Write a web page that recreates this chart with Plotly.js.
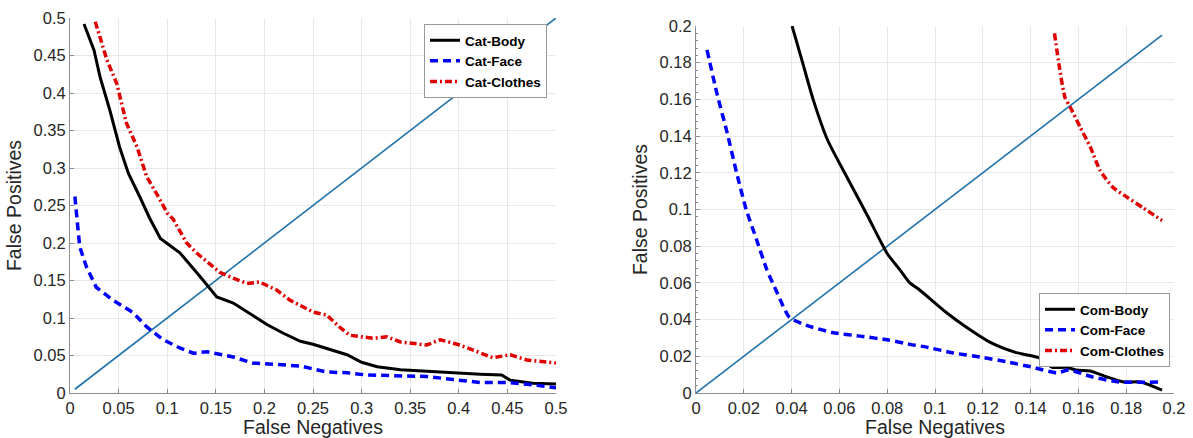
<!DOCTYPE html>
<html>
<head>
<meta charset="utf-8">
<script src="https://cdn.plot.ly/plotly-3.0.1.min.js"></script>
<style>html,body{margin:0;padding:0;background:#fff;}#chart{width:1193px;height:438px;}</style>
</head>
<body>
<div id="chart"></div>
<script>
// ---- Left panel (Cat) ----
const catBodyX = [0.0144,0.0247,0.031,0.041,0.051,0.060,0.072,0.082,0.093,0.113,0.134,0.151,0.168,0.182,0.203,0.219,0.237,0.25,0.285,0.30,0.316,0.34,0.388,0.422,0.444,0.453,0.476,0.5];
const catBodyY = [0.492,0.457,0.421,0.377,0.328,0.293,0.261,0.233,0.206,0.187,0.155,0.128,0.120,0.108,0.091,0.080,0.069,0.065,0.051,0.041,0.035,0.031,0.027,0.025,0.024,0.017,0.013,0.012];

const catFaceX = [0.005,0.007,0.010,0.017,0.027,0.044,0.065,0.079,0.096,0.113,0.127,0.141,0.168,0.188,0.219,0.237,0.264,0.285,0.305,0.326,0.367,0.394,0.422,0.45,0.476,0.5];
const catFaceY = [0.262,0.235,0.195,0.168,0.141,0.124,0.107,0.088,0.071,0.060,0.053,0.055,0.048,0.040,0.037,0.036,0.028,0.027,0.024,0.023,0.022,0.018,0.014,0.014,0.011,0.007];

const catClothesX = [0.026,0.038,0.048,0.058,0.069,0.079,0.089,0.1,0.106,0.12,0.13,0.154,0.168,0.182,0.195,0.213,0.226,0.237,0.25,0.264,0.278,0.288,0.312,0.326,0.34,0.367,0.381,0.401,0.415,0.435,0.453,0.47,0.5];
const catClothesY = [0.495,0.444,0.413,0.36,0.328,0.288,0.266,0.24,0.232,0.20,0.187,0.161,0.153,0.146,0.148,0.137,0.124,0.117,0.108,0.104,0.087,0.077,0.073,0.075,0.068,0.064,0.071,0.064,0.057,0.047,0.051,0.044,0.040];

const catDiagX = [0.005,0.5];
const catDiagY = [0.005,0.5];

// ---- Right panel (Com) ----
const comBodyX = [0.0402,0.0444,0.049,0.055,0.063,0.0716,0.080,0.0854,0.0895,0.0937,0.105,0.113,0.124,0.134,0.144,0.149,0.155,0.159,0.165,0.172,0.179,0.186,0.195];
const comBodyY = [0.2,0.181,0.16,0.138,0.118,0.097,0.076,0.067,0.060,0.056,0.0436,0.036,0.027,0.022,0.019,0.014,0.014,0.0125,0.012,0.0087,0.006,0.006,0.0016];

const comFaceX = [0.0046,0.0088,0.013,0.017,0.021,0.0255,0.0297,0.034,0.039,0.046,0.057,0.0686,0.08,0.0895,0.0965,0.1077,0.119,0.130,0.141,0.151,0.156,0.166,0.177,0.194];
const comFaceY = [0.187,0.163,0.142,0.12,0.10,0.083,0.067,0.0545,0.0414,0.037,0.033,0.031,0.029,0.0265,0.025,0.0218,0.0196,0.017,0.014,0.011,0.0125,0.0087,0.006,0.006];

const comClothesX = [0.150,0.152,0.1544,0.1565,0.1607,0.165,0.169,0.1745,0.18,0.187,0.195];
const comClothesY = [0.196,0.178,0.161,0.156,0.145,0.134,0.1215,0.112,0.107,0.101,0.094];

const comDiagX = [0,0.195];
const comDiagY = [0,0.195];

const BLUE = '#0000ff', RED = '#e00000', DIAG = '#1f72aa';
const DASH = '8px,5px', DASHDOT = '7px,3px,2px,3px';

const traces = [
  {x: catDiagX, y: catDiagY, xaxis:'x', yaxis:'y', mode:'lines', line:{color:DIAG, width:1.6}, showlegend:false, hoverinfo:'skip'},
  {x: catBodyX, y: catBodyY, xaxis:'x', yaxis:'y', mode:'lines', name:'Cat-Body', line:{color:'#000', width:3}, legend:'legend'},
  {x: catFaceX, y: catFaceY, xaxis:'x', yaxis:'y', mode:'lines', name:'Cat-Face', line:{color:BLUE, width:3.5, dash:DASH}, legend:'legend'},
  {x: catClothesX, y: catClothesY, xaxis:'x', yaxis:'y', mode:'lines', name:'Cat-Clothes', line:{color:RED, width:3.5, dash:DASHDOT}, legend:'legend'},
  {x: comDiagX, y: comDiagY, xaxis:'x2', yaxis:'y2', mode:'lines', line:{color:DIAG, width:1.6}, showlegend:false, hoverinfo:'skip'},
  {x: comBodyX, y: comBodyY, xaxis:'x2', yaxis:'y2', mode:'lines', name:'Com-Body', line:{color:'#000', width:3, shape:'spline', smoothing:0.6}, legend:'legend2'},
  {x: comFaceX, y: comFaceY, xaxis:'x2', yaxis:'y2', mode:'lines', name:'Com-Face', line:{color:BLUE, width:3.5, dash:DASH, shape:'spline', smoothing:0.6}, legend:'legend2'},
  {x: comClothesX, y: comClothesY, xaxis:'x2', yaxis:'y2', mode:'lines', name:'Com-Clothes', line:{color:RED, width:3.5, dash:DASHDOT, shape:'spline', smoothing:0.6}, legend:'legend2'}
];

const tickFont = {family:'Liberation Sans, Arial, sans-serif', size:16.5, color:'#262626'};
const titleFont = {family:'Liberation Sans, Arial, sans-serif', size:19.5, color:'#262626'};
const legFont = {family:'Liberation Sans, Arial, sans-serif', size:13.5, color:'#000', weight:'bold'};

function ax(extra){
  return Object.assign({
    showgrid:true, gridcolor:'#e8e8e8', gridwidth:1,
    showline:true, linecolor:'#8c8c8c', linewidth:1, mirror:false,
    zeroline:false, ticks:'inside', ticklen:4, tickcolor:'#8c8c8c',
    tickfont:tickFont, fixedrange:true, automargin:false
  }, extra);
}

const layout = {
  width:1193, height:438,
  margin:{l:0, r:0, t:0, b:0},
  paper_bgcolor:'#fff', plot_bgcolor:'#fff',
  showlegend:true,
  xaxis: ax({domain:[70/1193, 556/1193], range:[0,0.5], dtick:0.05, tick0:0, anchor:'y',
             title:{text:'False Negatives', font:titleFont, standoff:0}}),
  yaxis: ax({domain:[45/438, 420/438], range:[0,0.5], dtick:0.05, tick0:0, anchor:'x',
             title:{text:'False Positives', font:titleFont, standoff:6}}),
  xaxis2: ax({domain:[696/1193, 1174/1193], range:[0,0.2], dtick:0.02, tick0:0, anchor:'y2',
             title:{text:'False Negatives', font:titleFont, standoff:0}}),
  yaxis2: ax({domain:[45/438, 412/438], range:[0,0.2], dtick:0.02, tick0:0, anchor:'x2',
             minor:{dtick:0.004, ticks:'inside', ticklen:2, tickcolor:'#8c8c8c', showgrid:false},
             title:{text:'False Positives', font:titleFont, standoff:6}}),
  legend: {x:547/1193, y:(438-24)/438, xanchor:'right', yanchor:'top', bgcolor:'#fff',
           bordercolor:'#9a9a9a', borderwidth:1, font:legFont, tracegroupgap:0, itemwidth:30},
  legend2: {x:1170/1193, y:(438-330)/438, xanchor:'right', yanchor:'middle', bgcolor:'#fff',
           bordercolor:'#9a9a9a', borderwidth:1, font:legFont, tracegroupgap:0, itemwidth:30}
};

Plotly.newPlot('chart', traces, layout, {displayModeBar:false, staticPlot:true});
</script>
</body>
</html>
